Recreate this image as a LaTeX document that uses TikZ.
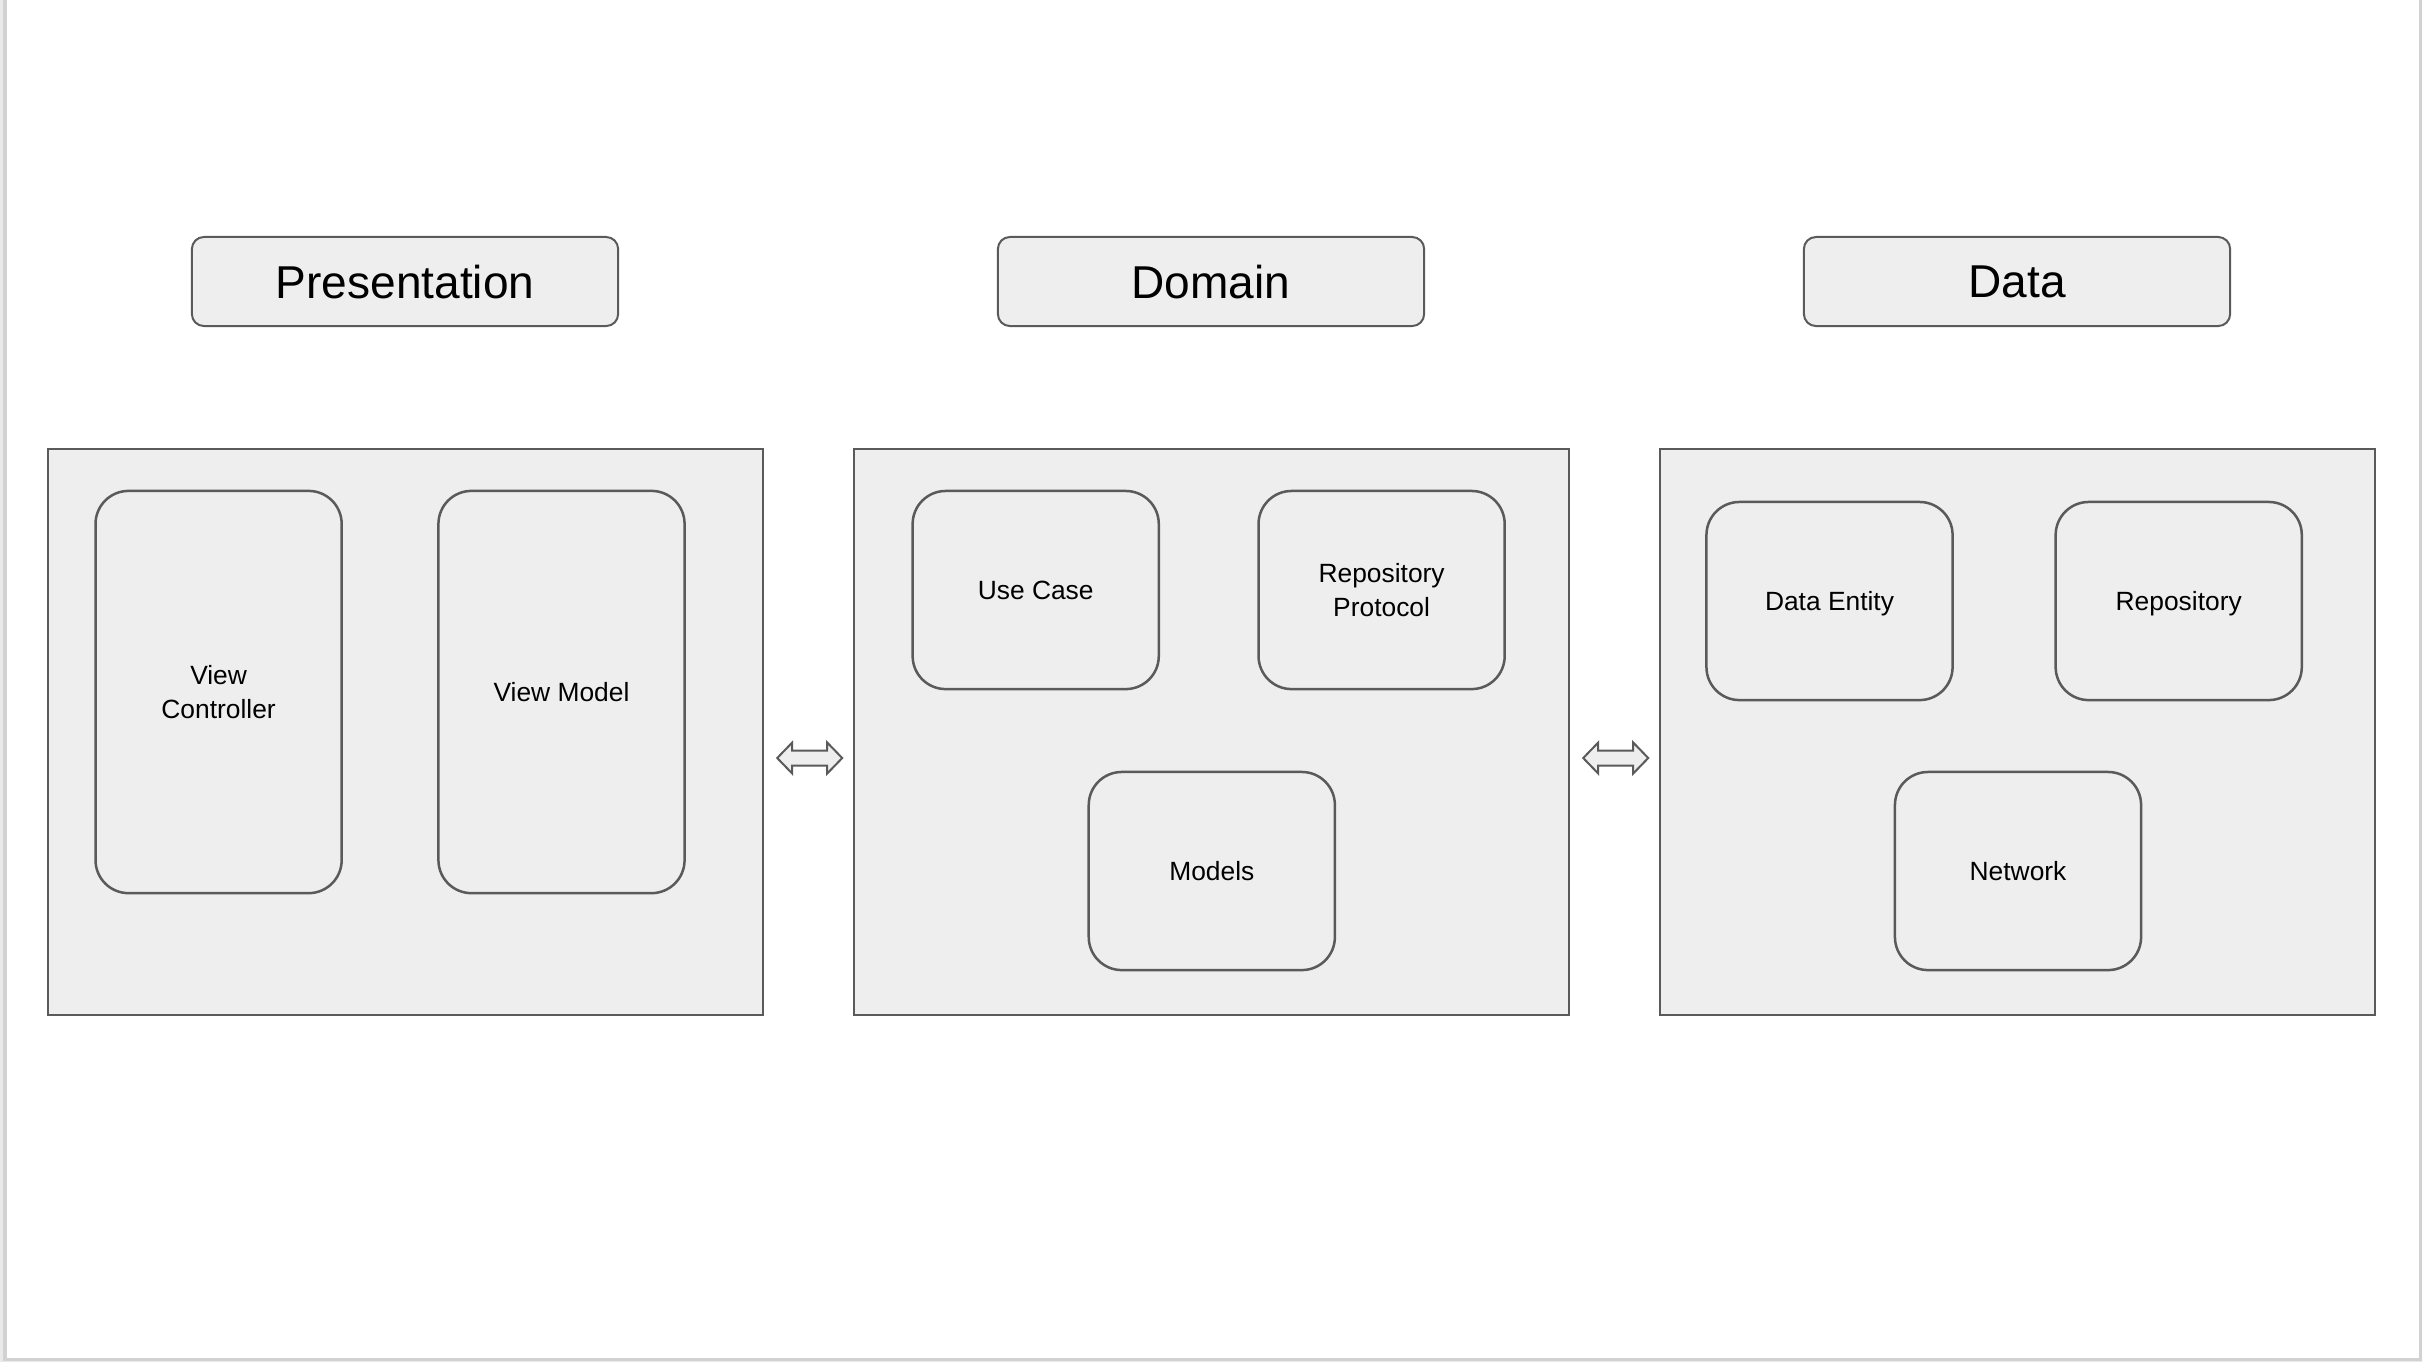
\documentclass[tikz,border=0pt]{standalone}
\usepackage{fontspec}
\setmainfont{Liberation Sans}
\usetikzlibrary{calc}

\definecolor{boxfill}{HTML}{EEEEEE}
\definecolor{boxline}{HTML}{5A5A5A}
\definecolor{pageedge}{HTML}{D2D2D2}
\definecolor{pageback}{HTML}{E9E9EB}

\tikzset{
  layertitle/.style={draw=boxline, fill=boxfill, line width=0.02cm, rounded corners=0.12cm,
    minimum width=4.26cm, minimum height=0.89cm, inner sep=0pt, text depth=0pt,
    font=\fontsize{13.1}{15}\selectfont},
  layerbox/.style={draw=boxline, fill=boxfill, line width=0.02cm,
    minimum width=7.15cm, minimum height=5.65cm, inner sep=0pt},
  partbox/.style={draw=boxline, fill=boxfill, line width=0.025cm, rounded corners=0.33cm,
    minimum width=2.46cm, minimum height=1.98cm, inner sep=0pt, text depth=0pt,
    align=center, font=\fontsize{7.5}{9.5}\selectfont},
  tallpart/.style={partbox, minimum height=4.02cm},
  blockarrow/.style={draw=boxline, fill=boxfill, line width=0.02cm, line join=miter}
}

\begin{document}
\begin{tikzpicture}[x=0.01cm, y=-0.01cm]
  \useasboundingbox (0,0) rectangle (2422,1362);
  % page
  \fill[pageback] (0,0) rectangle (2422,1362);
  \fill[white] (5,0) rectangle (2420,1359);
  \draw[pageedge, line width=0.03cm] (5,0) -- (5,1359) -- (2420,1359) -- (2420,0);

  % layer titles
  \node[layertitle] (prestitle) at (405,281.5) {Presentation};
  \node[layertitle] (domtitle) at (1211,281.5) {Domain};
  \node[layertitle] (datatitle) at (2017,281.5) {Data};

  % layers
  \node[layerbox] (pres) at (405.5,732) {};
  \node[layerbox] (dom) at (1211.5,732) {};
  \node[layerbox] (data) at (2017.5,732) {};

  % presentation
  \node[tallpart] (vc) at (218.6,692) {View\\Controller};
  \node[tallpart] (vm) at (561.5,692) {View Model};

  % domain
  \node[partbox] (usecase) at (1035.7,590) {Use Case};
  \node[partbox] (repoproto) at (1381.6,590) {Repository\\Protocol};
  \node[partbox] (models) at (1211.8,871) {Models};

  % data
  \node[partbox] (entity) at (1829.5,601) {Data Entity};
  \node[partbox] (repo) at (2178.7,601) {Repository};
  \node[partbox] (network) at (2018,871) {Network};

  % arrows between layers
  \foreach \a/\b in {pres/dom, dom/data}
    \draw[blockarrow] ($(\a.east)+(13,26)$) -- ++(15,-15.5) -- ++(0,8) -- ++(35,0)
      -- ++(0,-8) -- ++(15,15.5) -- ++(-15,15.5) -- ++(0,-8) -- ++(-35,0)
      -- ++(0,8) -- cycle;
\end{tikzpicture}
\end{document}
